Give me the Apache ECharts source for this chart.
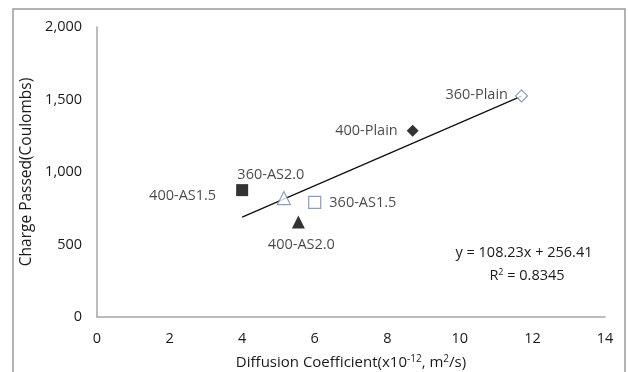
<!DOCTYPE html>
<html>
<head>
<meta charset="utf-8">
<script src="https://cdn.jsdelivr.net/npm/echarts@6/dist/echarts.min.js"></script>
<style>
  html, body { margin: 0; padding: 0; background: #fff; }
  #chart { width: 628px; height: 372px; }
</style>
</head>
<body>
<div id="chart"></div>
<script>
// Mix specimens: diffusion coefficient (x10^-12 m²/s) vs charge passed (Coulombs)
const specimens = ['360-Plain', '400-Plain', '360-AS2.0', '400-AS1.5', '360-AS1.5', '400-AS2.0'];
const diffusion = [11.7, 8.7, 5.15, 4.0, 6.0, 5.55];
const charge = [1525, 1285, 820, 875, 790, 655];
const symbols = ['diamond', 'diamond', 'triangle', 'rect', 'rect', 'triangle'];
const hollow = [true, false, true, false, true, false];

// Linear trend fit shown on the chart
const slope = 108.23;
const intercept = 256.41;
const rSquared = 0.8345;

const xTicks = { min: 0, max: 14, interval: 2 };
const yTicks = { min: 0, max: 2000, interval: 500 };

const FONT = '"Open Sans", sans-serif';
const TEXT = '#1a1a1a';
const HOLLOW_EDGE = '#6d86b3';
const FS = 14.5;

const labelLayout = {
  '360-Plain': { position: 'left', distance: 7, offset: [0, -1] },
  '400-Plain': { position: 'left', distance: 9 },
  '360-AS2.0': { position: 'top', distance: 9, offset: [-13, 0] },
  '400-AS1.5': { position: 'left', distance: 20, offset: [0, 6] },
  '360-AS1.5': { position: 'right', distance: 8 },
  '400-AS2.0': { position: 'bottom', distance: 9, offset: [3, 0] }
};
const sizes = { diamond: 12, rect: 12, triangle: 13 };

const points = specimens.map((name, i) => {
  const lay = labelLayout[name];
  return {
    name: name,
    value: [diffusion[i], charge[i]],
    symbol: symbols[i],
    symbolSize: sizes[symbols[i]],
    itemStyle: hollow[i]
      ? { color: '#fff', borderColor: HOLLOW_EDGE, borderWidth: 1.2 }
      : { color: '#000', borderWidth: 0 },
    label: {
      show: true,
      formatter: name,
      position: lay.position,
      distance: lay.distance,
      offset: lay.offset || [0, 0],
      color: TEXT,
      fontFamily: FONT,
      fontSize: FS
    }
  };
});

const xMin = Math.min(...diffusion);
const xMax = Math.max(...diffusion);
const trend = [[xMin, slope * xMin + intercept], [xMax, slope * xMax + intercept]];

const chart = echarts.init(document.getElementById('chart'), null, { renderer: 'canvas' });
chart.setOption({
  animation: false,
  backgroundColor: '#fff',
  grid: { left: 97, right: 23, top: 27, bottom: 55, containLabel: false, outerBoundsMode: 'none' },
  xAxis: {
    type: 'value',
    min: xTicks.min, max: xTicks.max, interval: xTicks.interval,
    splitLine: { show: false },
    axisLine: { show: true, onZero: false, lineStyle: { color: '#a6a6a6', width: 1.5 } },
    axisTick: { show: false },
    axisLabel: { color: TEXT, fontFamily: FONT, fontSize: FS, margin: 14 },
    name: 'Diffusion Coefficient(x10{s|-12}, m{s|2}/s)',
    nameLocation: 'middle',
    nameGap: 37,
    nameTextStyle: {
      color: TEXT, fontFamily: FONT, fontSize: 15,
      rich: { s: { fontSize: 10, verticalAlign: 'top', padding: [0, 0, 7, 0], color: TEXT, fontFamily: FONT } }
    }
  },
  yAxis: {
    type: 'value',
    min: yTicks.min, max: yTicks.max, interval: yTicks.interval,
    splitLine: { show: false },
    axisLine: { show: true, lineStyle: { color: '#a6a6a6', width: 1.5 } },
    axisTick: { show: false },
    axisLabel: {
      color: TEXT, fontFamily: FONT, fontSize: FS, margin: 15,
      formatter: v => v.toLocaleString('en-US')
    },
    name: 'Charge Passed(Coulombs)',
    nameLocation: 'middle',
    nameGap: 60,
    nameTextStyle: { color: TEXT, fontFamily: FONT, fontSize: 15.5 }
  },
  series: [
    {
      type: 'line',
      data: trend,
      symbol: 'none',
      lineStyle: { color: '#111', width: 1.3 },
      z: 1
    },
    {
      type: 'scatter',
      data: points,
      z: 3
    }
  ],
  graphic: [
    {
      type: 'rect',
      shape: { x: 13, y: 9, width: 612, height: 372 },
      style: { fill: 'none', stroke: '#9a9a9a', lineWidth: 1.5 },
      silent: true
    },
    {
      type: 'text',
      x: 524, y: 253,
      style: {
        text: 'y = ' + slope + 'x + ' + intercept,
        fill: TEXT, font: FS + 'px ' + FONT,
        align: 'center', verticalAlign: 'middle'
      }
    },
    {
      type: 'text',
      x: 527, y: 276,
      style: {
        text: 'R{s|2} = ' + rSquared,
        fill: TEXT, font: FS + 'px ' + FONT,
        align: 'center', verticalAlign: 'middle',
        rich: { s: { fontSize: 9, verticalAlign: 'top', padding: [0, 0, 7, 0], fill: TEXT, fontFamily: FONT } }
      }
    }
  ]
});
</script>
</body>
</html>
